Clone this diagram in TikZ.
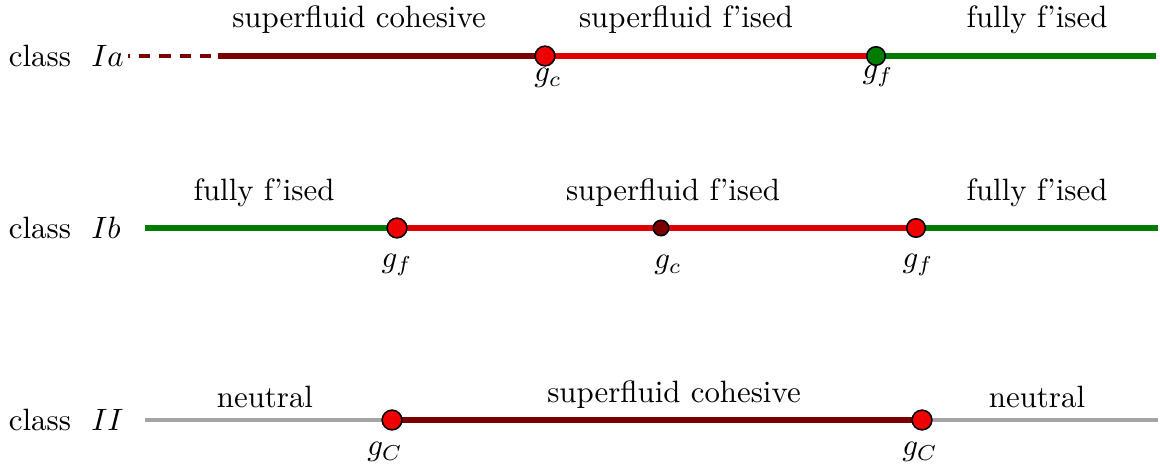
\documentclass[tikz,border=0pt]{standalone}
\usepackage{amsmath}

\definecolor{darkred}{RGB}{122,0,0}
\definecolor{lightred}{RGB}{224,0,0}
\definecolor{dotred}{RGB}{240,0,0}
\definecolor{darkgreen}{RGB}{0,125,0}
\definecolor{lightgray}{RGB}{165,165,165}

\tikzset{
  phase/.style={line width=2pt},
  pt/.style={circle, draw=black, line width=0.5pt, inner sep=0pt, minimum size=6.4pt, fill=dotred},
  smallpt/.style={pt, minimum size=5pt, fill=darkred},
  classlabel/.style={anchor=west},
}

\begin{document}
\begin{tikzpicture}[x=0.324pt, y=-0.324pt]
            \useasboundingbox (0,0) rectangle (1160,473);
            % class Ia
            \node[classlabel] (la) at (-2,56) {class\ \ $Ia$};
            \coordinate (sa) at (128,56);
            \coordinate (ma) at (218,56);
            \coordinate (ca) at (545,56);
            \coordinate (fa) at (876,56);
            \coordinate (ea) at (1156,56);
            \draw[darkred, line width=1pt, dash pattern=on 3.6pt off 3pt, dash phase=3pt] (sa) -- (ma);
            \draw[phase, darkred] (ma) -- (ca);
            \draw[phase, lightred] (ca) -- (fa);
            \draw[phase, darkgreen, line width=1.7pt] (fa) -- (ea);
            \node[pt] (gca) at (ca) {};
            \node[pt, fill=darkgreen, minimum size=6pt] (gfa) at (fa) {};
            \node at (359,20) {superfluid cohesive};
            \node at (686,20) {superfluid f'ised};
            \node at (1037,20) {fully f'ised};
            \node at (548,78) {$g_c$};
            \node at (878,76) {$g_f$};
            % class Ib
            \node[classlabel] (lb) at (-2,228) {class\ \ $Ib$};
            \coordinate (sb) at (145,228);
            \coordinate (fb) at (397,228);
            \coordinate (cb) at (661,228);
            \coordinate (hb) at (916,228);
            \coordinate (eb) at (1158,228);
            \draw[phase, darkgreen, line width=1.7pt] (sb) -- (fb);
            \draw[phase, lightred] (fb) -- (hb);
            \draw[phase, darkgreen, line width=1.7pt] (hb) -- (eb);
            \node[pt] (gfb) at (fb) {};
            \node[smallpt] (gcb) at (cb) {};
            \node[pt, minimum size=6pt] (ghb) at (hb) {};
            \node at (264,193) {fully f'ised};
            \node at (673,193) {superfluid f'ised};
            \node at (1037,193) {fully f'ised};
            \node at (397,265) {$g_f$};
            \node at (668,265) {$g_c$};
            \node at (918,265) {$g_f$};
            % class II
            \node[classlabel] (lc) at (-2,420) {class\ \ $II$};
            \coordinate (sc) at (145,420);
            \coordinate (pc) at (392,420);
            \coordinate (qc) at (922,420);
            \coordinate (ec) at (1158,420);
            \draw[phase, lightgray, line width=1.6pt] (sc) -- (pc);
            \draw[phase, darkred] (pc) -- (qc);
            \draw[phase, lightgray, line width=1.6pt] (qc) -- (ec);
            \node[pt] (gpc) at (pc) {};
            \node[pt] (gqc) at (qc) {};
            \node at (265,397) {neutral};
            \node at (674,395) {superfluid cohesive};
            \node at (1037,397) {neutral};
            \node at (385,452) {$g_C$};
            \node at (920,452) {$g_C$};
        \end{tikzpicture}
\end{document}
